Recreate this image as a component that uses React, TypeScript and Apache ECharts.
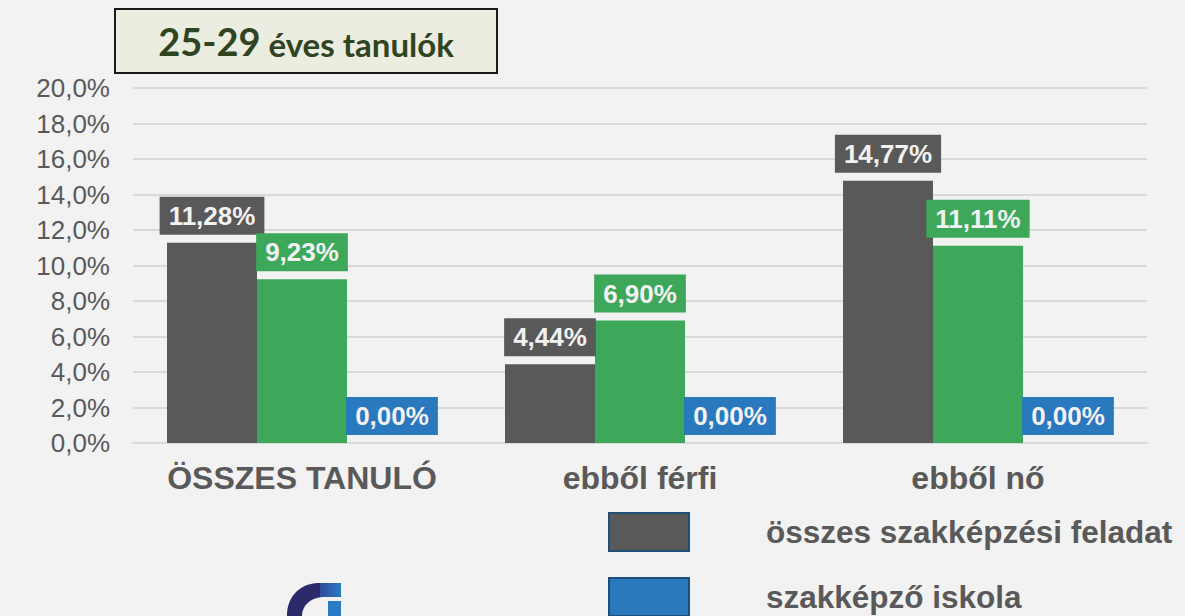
import React, { useEffect, useRef } from "react";
import * as echarts from "echarts";

const categories = ["ÖSSZES TANULÓ", "ebből férfi", "ebből nő"];
const seriesNames = ["összes szakképzési feladat", "szakképző centrum", "szakképző iskola"];
const grayValues = [11.28, 4.44, 14.77];
const greenValues = [9.23, 6.9, 11.11];
const blueValues = [0.0, 0.0, 0.0];
const legendItems = ["összes szakképzési feladat", "szakképző iskola"];
const titleMain = "25-29";
const titleRest = " éves tanulók";

const colors = ["#595959", "#3DA85A", "#2A78BE"];

const fmtVal = (v: number) => v.toFixed(2).replace(".", ",") + "%";
const fmtAxis = (v: number) => v.toFixed(1).replace(".", ",") + "%";

echarts.graphic.registerShape(
  "logoArc",
  echarts.graphic.extendPath(
    "M0 33 C0 15 11 1 31 0 L35 0 L35 14 C23 15 15 23 15 33 Z",
    {}
  )
);

export default function App() {
  const ref = useRef<HTMLDivElement>(null);
  useEffect(() => {
    if (!ref.current) return;
    const chart = echarts.init(ref.current, null, { renderer: "svg" });
    const mkSeries = (name: string, data: number[], color: string) => ({
      name,
      type: "bar",
      data,
      barWidth: 90,
      barGap: "0%",
      itemStyle: { color },
      label: {
        show: true,
        position: "top",
        distance: 8,
        formatter: (p: any) => fmtVal(p.value),
        color: "#F2F2F2",
        fontFamily: "Liberation Sans, Arial, sans-serif",
        fontWeight: "bold",
        fontSize: 26,
        lineHeight: 30,
        backgroundColor: color,
        padding: [4, 9, 4, 9],
      },
    });
    const legendBase = {
      orient: "vertical",
      left: 608,
      padding: 0,
      itemWidth: 80,
      itemHeight: 38,
      icon: "rect",
      itemStyle: { borderColor: "#1F4E79", borderWidth: 2 },
    };
    const legendText = (padTop: number) => ({
      color: "#595959",
      fontFamily: "Liberation Sans, Arial, sans-serif",
      fontWeight: "bold",
      fontSize: 31.5,
      lineHeight: 32,
      padding: [padTop, 0, 0, 72],
    });
    chart.setOption({
      animation: false,
      backgroundColor: "#F2F2F2",
      grid: { left: 133, right: 38, top: 88, bottom: 173, containLabel: false },
      legend: [
        { ...legendBase, data: [legendItems[0]], top: 512, textStyle: legendText(4) },
        { ...legendBase, data: [legendItems[1]], top: 577, textStyle: legendText(0) },
      ],
      xAxis: {
        type: "category",
        data: categories,
        axisLine: { show: true, lineStyle: { color: "#D9D9D9", width: 2 } },
        axisTick: { show: false },
        axisLabel: {
          interval: 0,
          color: "#595959",
          fontFamily: "Liberation Sans, Arial, sans-serif",
          fontWeight: "bold",
          fontSize: 32,
          margin: 19,
        },
      },
      yAxis: {
        type: "value",
        min: 0,
        max: 20,
        interval: 2,
        axisLine: { show: false },
        axisTick: { show: false },
        splitLine: { lineStyle: { color: "#D9D9D9", width: 2 } },
        axisLabel: {
          formatter: fmtAxis,
          color: "#595959",
          fontFamily: "Liberation Sans, Arial, sans-serif",
          fontSize: 26,
          margin: 23,
        },
      },
      series: [
        mkSeries(seriesNames[0], grayValues, colors[0]),
        mkSeries(seriesNames[1], greenValues, colors[1]),
        mkSeries(seriesNames[2], blueValues, colors[2]),
      ],
      graphic: [
        {
          type: "rect",
          shape: { x: 115, y: 9, width: 382, height: 64 },
          style: { fill: "#EBEDE1", stroke: "#1A1A1A", lineWidth: 2 },
        },
        {
          type: "text",
          x: 306,
          y: 39,
          style: {
            text: "{a|" + titleMain + "}{b|" + titleRest + "}",
            align: "center",
            verticalAlign: "middle",
            fill: "#2F4420",
            fontFamily: "Lato, sans-serif",
            fontWeight: "bold",
            rich: {
              a: { fontSize: 38, fontWeight: "bold", fontFamily: "Lato, sans-serif", fill: "#2F4420", color: "#2F4420", verticalAlign: "bottom", lineHeight: 42 },
              b: { fontSize: 33, fontWeight: "bold", fontFamily: "Lato, sans-serif", fill: "#2F4420", color: "#2F4420", verticalAlign: "bottom", lineHeight: 42 },
            },
          },
        },
        {
          type: "logoArc",
          x: 287,
          y: 583,
          style: { fill: "#2B2A6B" },
        },
        {
          type: "rect",
          shape: { x: 320, y: 583, width: 21, height: 14 },
          style: {
            fill: new echarts.graphic.LinearGradient(0, 0, 1, 0, [
              { offset: 0, color: "#2F4C9A" },
              { offset: 1, color: "#2A7AC4" },
            ]),
          },
        },
        {
          type: "rect",
          shape: { x: 328, y: 601, width: 13, height: 20 },
          style: { fill: "#2A7AC4" },
        },
      ],
    });
    return () => chart.dispose();
  }, []);
  return (
    <div
      ref={ref}
      style={{ position: "fixed", left: 0, top: 0, width: 1185, height: 616 }}
    />
  );
}
